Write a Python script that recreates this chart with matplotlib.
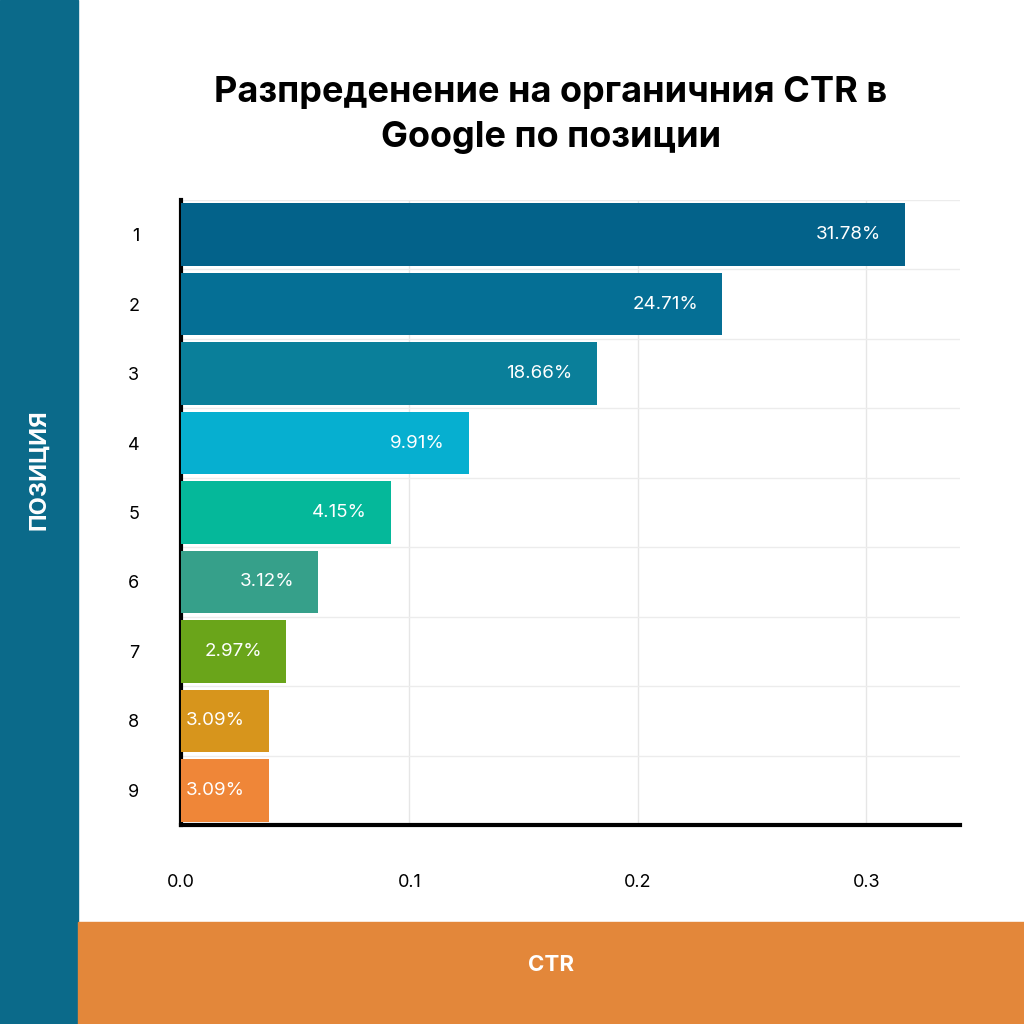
import matplotlib
matplotlib.use("Agg")
import matplotlib.pyplot as plt
from matplotlib.patches import Rectangle

positions = ["1", "2", "3", "4", "5", "6", "7", "8", "9"]
bar_values = [0.317, 0.237, 0.182, 0.126, 0.092, 0.060, 0.046, 0.0385, 0.0385]
bar_labels = ["31.78%", "24.71%", "18.66%", "9.91%", "4.15%", "3.12%", "2.97%", "3.09%", "3.09%"]
colors = ["#03628a", "#056f95", "#0a7f9a", "#06afd0", "#05b89a", "#36a08a", "#6aa51a", "#d7951c", "#ef8638"]
xticks = [0.0, 0.1, 0.2, 0.3]

plt.rcParams["font.family"] = "Inter"
fig = plt.figure(figsize=(10.24, 10.24), dpi=100)
fig.patches.append(Rectangle((0, 0), 78/1024, 1, transform=fig.transFigure, color="#0b6a8a", zorder=0))
fig.patches.append(Rectangle((78/1024, 0), 1, 102/1024, transform=fig.transFigure, color="#e3873a", zorder=0))
fig.text(39/1024, 1-470/1024, "ПОЗИЦИЯ", rotation=90, color="white", fontsize=17, fontweight="bold", ha="center", va="center")
fig.text(551/1024, 1-965/1024, "CTR", color="white", fontsize=16, fontweight="bold", ha="center", va="center")
fig.text(551/1024, 1-115/1024, "Разпреденение на органичния CTR в\nGoogle по позиции", fontsize=26, fontweight="bold",
         ha="center", va="center", linespacing=1.45)

ax = fig.add_axes([181/1024, 1-825/1024, 779/1024, 625/1024])
y = list(range(len(positions)))
ax.barh(y, bar_values, height=0.9, color=colors, zorder=3)
for yi, v, lab in zip(y, bar_values, bar_labels):
    ax.text(v - 0.0105, yi, lab, color="white", fontsize=13.5, ha="right", va="center", zorder=4)
ax.set_ylim(len(positions) - 0.5, -0.5)
ax.set_xlim(0, 0.341)
ax.set_yticks(y)
ax.set_yticklabels(positions, fontsize=13)
ax.set_xticks(xticks)
ax.set_xticklabels([f"{t:.1f}" for t in xticks], fontsize=13)
ax.tick_params(length=0, pad=35, axis="x")
ax.tick_params(length=0, pad=30, axis="y")
ax.set_yticks([i + 0.5 for i in range(-1, len(positions))] + [i for i in y], minor=True)
ax.grid(True, which="major", axis="x", color="#e6e6e6", lw=1, zorder=0)
ax.grid(True, which="minor", axis="y", color="#ececec", lw=1, zorder=0)
ax.tick_params(which="minor", length=0)
for s in ["top", "right"]:
    ax.spines[s].set_visible(False)
ax.spines["left"].set_linewidth(3)
ax.spines["bottom"].set_linewidth(3)
fig.savefig("out.png", dpi=100)
